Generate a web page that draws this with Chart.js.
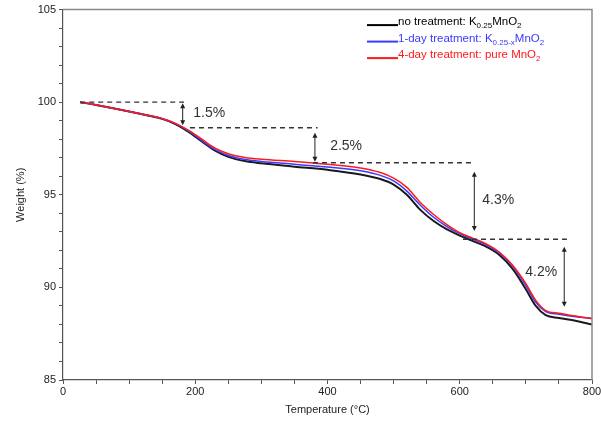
<!DOCTYPE html>
<html>
<head>
<meta charset="utf-8">
<script src="https://cdn.jsdelivr.net/npm/chart.js@4/dist/chart.umd.min.js"></script>
<style>
html,body{margin:0;padding:0;background:#fff;}
#wrap{width:601px;height:423px;position:relative;}
</style>
</head>
<body>
<div id="wrap"><canvas id="c" width="601" height="423"></canvas></div>
<script>
// Temperature (°C)
const temps = [26,50,100,130,150,170,190,210,230,250,275,300,350,400,450,480,500,520,540,560,580,600,620,640,660,680,700,715,730,750,775,800];
// Weight (%)
const noTreatment = [100,99.85,99.5,99.27,99.1,98.82,98.4,97.88,97.38,97.05,96.82,96.7,96.52,96.35,96.1,95.85,95.55,95.0,94.2,93.6,93.15,92.8,92.5,92.2,91.75,91.0,89.9,89.0,88.5,88.35,88.2,88.0];
const oneDay = [100,99.85,99.5,99.27,99.11,98.84,98.44,97.93,97.44,97.12,96.9,96.8,96.65,96.5,96.3,96.05,95.75,95.2,94.45,93.8,93.3,92.9,92.6,92.3,91.85,91.15,90.1,89.2,88.7,88.55,88.42,88.33];
const fourDay = [100,99.85,99.5,99.28,99.12,98.86,98.48,98.0,97.52,97.22,97.02,96.92,96.8,96.65,96.45,96.2,95.9,95.4,94.6,93.95,93.4,92.95,92.65,92.35,91.9,91.2,90.2,89.3,88.75,88.6,88.45,88.3];

// Annotation values (data units)
const dashY  = [100, 98.62, 96.73, 92.6];
const dashX1 = [26, 192, 378, 605];
const dashX2 = [183, 385, 623, 762];
const arrowX  = [181, 381, 622, 758];
const arrowY1 = [99.95, 98.35, 96.25, 92.2];
const arrowY2 = [98.75, 96.78, 93.05, 88.95];
const stepLabels = ['1.5%','2.5%','4.3%','4.2%'];
const labelX = [197, 404, 634, 699];
const labelY = [99.4, 97.63, 94.72, 90.8];

const xTicks = [0,200,400,600,800];
const yTicks = [85,90,95,100,105];

const toPts = (arr) => temps.map((t,i)=>({x:t,y:arr[i]}));

const annotPlugin = {
  id:'annot',
  afterDatasetsDraw(chart){
    const {ctx, chartArea:a, scales:{x,y}} = chart;
    ctx.save();
    // frame
    ctx.strokeStyle = '#8a8a8a';
    ctx.lineWidth = 1.5;
    ctx.beginPath();
    ctx.moveTo(a.left, a.top); ctx.lineTo(a.right, a.top); ctx.lineTo(a.right, a.bottom);
    ctx.stroke();
    // dashed lines
    ctx.strokeStyle = '#333';
    ctx.lineWidth = 1.3;
    ctx.setLineDash([5,4]);
    for(let i=0;i<dashY.length;i++){
      const py = y.getPixelForValue(dashY[i]);
      ctx.beginPath();
      ctx.moveTo(x.getPixelForValue(dashX1[i]), py);
      ctx.lineTo(x.getPixelForValue(dashX2[i]), py);
      ctx.stroke();
    }
    ctx.setLineDash([]);
    // arrows
    ctx.lineWidth = 1;
    ctx.fillStyle = '#222';
    ctx.strokeStyle = '#222';
    for(let i=0;i<arrowX.length;i++){
      const px = x.getPixelForValue(arrowX[i]);
      const p1 = y.getPixelForValue(arrowY1[i]);
      const p2 = y.getPixelForValue(arrowY2[i]);
      ctx.beginPath(); ctx.moveTo(px,p1+3); ctx.lineTo(px,p2-3); ctx.stroke();
      ctx.beginPath(); ctx.moveTo(px,p1); ctx.lineTo(px-2.5,p1+5); ctx.lineTo(px+2.5,p1+5); ctx.closePath(); ctx.fill();
      ctx.beginPath(); ctx.moveTo(px,p2); ctx.lineTo(px-2.5,p2-5); ctx.lineTo(px+2.5,p2-5); ctx.closePath(); ctx.fill();
    }
    // labels
    ctx.fillStyle = '#333';
    ctx.font = '14px "Liberation Sans", Arial, sans-serif';
    ctx.textBaseline = 'middle';
    ctx.textAlign = 'left';
    for(let i=0;i<stepLabels.length;i++){
      ctx.fillText(stepLabels[i], x.getPixelForValue(labelX[i]), y.getPixelForValue(labelY[i]));
    }
    // legend
    const items = [
      {color:'#000000', parts:[['no treatment: K',0],['0.25',1],['MnO',0],['2',1]]},
      {color:'#3a3aff', parts:[['1-day treatment: K',0],['0.25-x',1],['MnO',0],['2',1]]},
      {color:'#ff1a1a', parts:[['4-day treatment: pure MnO',0],['2',1]]}
    ];
    const lx0 = a.right - 225, lx1 = a.right - 194;
    items.forEach((it,k)=>{
      const ty = a.top + 12.5 + k*16.5;
      ctx.strokeStyle = it.color; ctx.lineWidth = 2;
      ctx.beginPath(); ctx.moveTo(lx0, ty+3); ctx.lineTo(lx1, ty+3); ctx.stroke();
      let cx = lx1;
      ctx.fillStyle = it.color;
      ctx.textBaseline = 'middle';
      it.parts.forEach(([txt,sub])=>{
        if(sub){ ctx.font = '8px "Liberation Sans", Arial, sans-serif'; ctx.fillText(txt, cx, ty+4); }
        else { ctx.font = '11.5px "Liberation Sans", Arial, sans-serif'; ctx.fillText(txt, cx, ty); }
        cx += ctx.measureText(txt).width;
      });
    });
    ctx.restore();
  }
};

const tickFont = {family:'"Liberation Sans", Arial, sans-serif', size:11};
const titleFont = {family:'"Liberation Sans", Arial, sans-serif', size:11};
new Chart(document.getElementById('c'), {
  type:'line',
  data:{
    datasets:[
      {label:'4-day treatment: pure MnO2', data:toPts(fourDay), borderColor:'#ff1a1a', borderWidth:1.5, order:0},
      {label:'1-day treatment: K0.25-xMnO2', data:toPts(oneDay), borderColor:'#3a3aff', borderWidth:1.5, order:1},
      {label:'no treatment: K0.25MnO2', data:toPts(noTreatment), borderColor:'#1a1a1a', borderWidth:2, order:2}
    ]
  },
  options:{
    responsive:false,
    animation:false,
    devicePixelRatio:1,
    layout:{padding:{left:0,top:9,right:0,bottom:0}},
    elements:{point:{radius:0}, line:{tension:0.4, cubicInterpolationMode:'monotone'}},
    plugins:{legend:{display:false}, tooltip:{enabled:false}},
    scales:{
      x:{
        type:'linear', min:0, max:800,
        border:{color:'#555', width:1.2},
        grid:{drawOnChartArea:false, color:'#555', tickLength:4},
        ticks:{stepSize:50, autoSkip:false, maxRotation:0, color:'#222', font:tickFont, padding:1,
          callback:(v)=> xTicks.includes(v) ? String(v) : ''},
        title:{display:true, text:'Temperature (°C)', color:'#222', font:titleFont, padding:{top:0,bottom:6}},
        afterFit:(s)=>{ s.height = 43; s.paddingRight = 9; s.paddingLeft = 0; }
      },
      y:{
        type:'linear', min:85, max:105,
        border:{color:'#555', width:1.2},
        grid:{drawOnChartArea:false, color:'#555', tickLength:4},
        ticks:{stepSize:1, autoSkip:false, color:'#222', font:tickFont, padding:3,
          callback:(v)=> yTicks.includes(v) ? String(v) : ''},
        title:{display:true, text:'Weight (%)', color:'#222', font:titleFont, padding:{top:14,bottom:0}},
        afterFit:(s)=>{ s.width = 63; }
      }
    }
  },
  plugins:[annotPlugin]
});
</script>
</body>
</html>
